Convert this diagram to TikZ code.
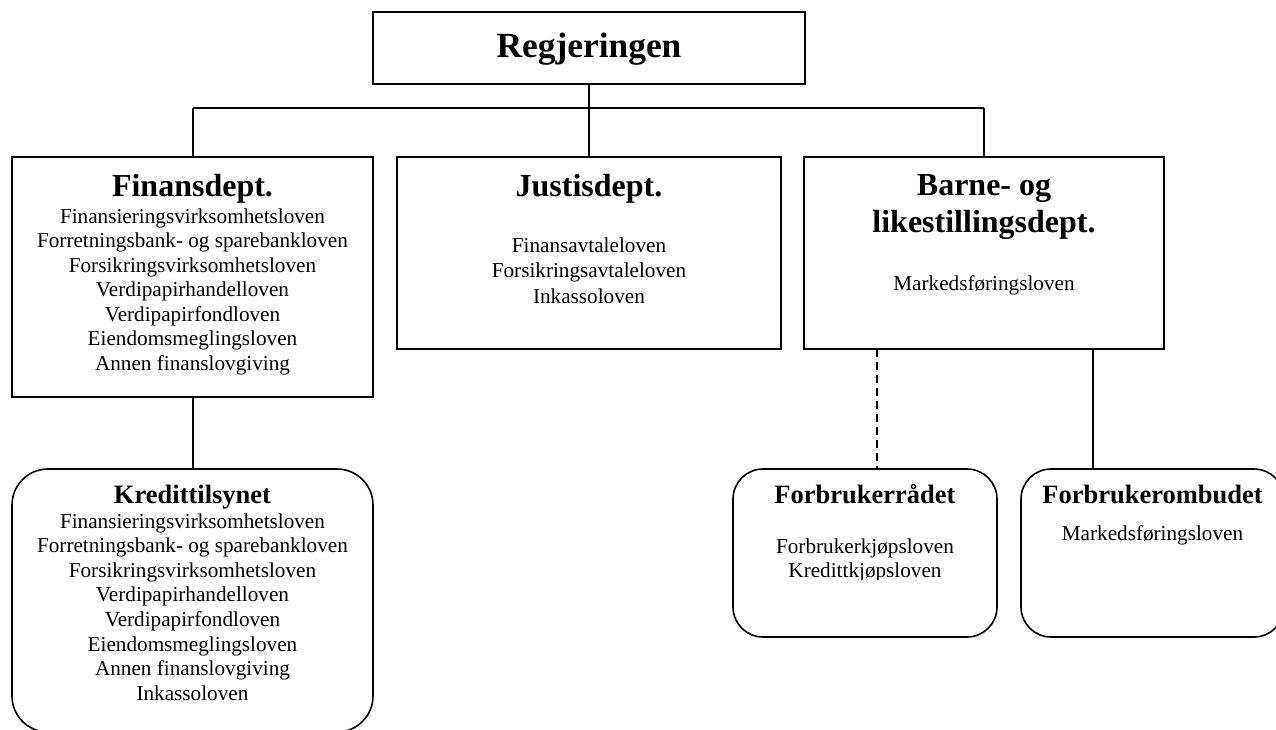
\documentclass[tikz,border=0pt]{standalone}
\usepackage{fontspec}
\setmainfont{Liberation Serif}
\begin{document}
\begin{tikzpicture}[x=1pt,y=-1pt,
  box/.style={draw, line width=1.8pt, rectangle, inner sep=0pt, outer sep=0pt},
  rbox/.style={draw, line width=1.6pt, rectangle, rounded corners=30pt, inner sep=0pt, outer sep=0pt},
  conn/.style={line width=2pt},
  big/.style={font=\bfseries\fontsize{35.4}{40}\selectfont, anchor=base, inner sep=0pt},
  head/.style={font=\bfseries\fontsize{32}{37}\selectfont, anchor=base, inner sep=0pt},
  sub/.style={font=\bfseries\fontsize{26.5}{30}\selectfont, anchor=base, inner sep=0pt},
  law/.style={font=\fontsize{21.2}{24}\selectfont, anchor=base, inner sep=0pt}]
\useasboundingbox (0,0) rectangle (1276,729);
% boxes
\node[box, minimum width=432, minimum height=72] (reg) at (589,48) {};
\node[box, minimum width=361, minimum height=240] (fin) at (192.5,277) {};
\node[box, minimum width=384, minimum height=192] (jus) at (589,253) {};
\node[box, minimum width=360, minimum height=192] (barne) at (984,253) {};
\node[rbox, rounded corners=36pt, minimum width=361, minimum height=263] (kred) at (192.5,600.5) {};
\node[rbox, minimum width=264, minimum height=168] (frad) at (865,553) {};
\node[rbox, minimum width=263, minimum height=168] (fomb) at (1152.5,553) {};
% texts
\node[big] (regT) at (589,57) {Regjeringen};
\node[head] (finT) at (192.5,196) {Finansdept.};
\foreach \t [count=\i from 0] in {Finansieringsvirksomhetsloven,Forretningsbank- og sparebankloven,Forsikringsvirksomhetsloven,Verdipapirhandelloven,Verdipapirfondloven,Eiendomsmeglingsloven,Annen finanslovgiving}
  \node[law] (finL\i) at (192.5,223+24.5*\i) {\t};
\node[head] (jusT) at (589,196) {Justisdept.};
\foreach \t [count=\i from 0] in {Finansavtaleloven,Forsikringsavtaleloven,Inkassoloven}
  \node[law] (jusL\i) at (589,252+25.5*\i) {\t};
\node[head] (barT1) at (984,195) {Barne- og};
\node[head] (barT2) at (984,232) {likestillingsdept.};
\node[law] (barL) at (984,290) {Markedsføringsloven};
\node[sub] (kredT) at (192.5,503) {Kredittilsynet};
\foreach \t [count=\i from 0] in {Finansieringsvirksomhetsloven,Forretningsbank- og sparebankloven,Forsikringsvirksomhetsloven,Verdipapirhandelloven,Verdipapirfondloven,Eiendomsmeglingsloven,Annen finanslovgiving,Inkassoloven}
  \node[law] (kredL\i) at (192.5,528+24.6*\i) {\t};
\node[sub] (fradT) at (865,503) {Forbrukerrådet};
\node[law] (fradL1) at (865,553) {Forbrukerkjøpsloven};
\begin{scope}
  \clip (740,560) rectangle (990,579.5);
  \node[law] (fradL2) at (865,577) {Kredittkjøpsloven};
\end{scope}
\node[sub] (fombT) at (1152.5,503) {Forbrukerombudet};
\node[law] (fombL) at (1152.5,540) {Markedsføringsloven};
% connectors
\coordinate (busL) at (192.5,108);
\coordinate (busR) at (984,108);
\coordinate (busM) at (reg.south |- busL);
\coordinate (dx) at (877,0);
\coordinate (ox) at (1093,0);
\draw[conn] (reg.south) -- (busM);
\draw[conn] (busL) -- (busR);
\draw[conn] (busL) -- (fin.north);
\draw[conn] (busM) -- (jus.north);
\draw[conn] (busR) -- (barne.north);
\draw[conn] (fin.south) -- (kred.north);
\draw[conn, dash pattern=on 8pt off 5pt] (barne.south -| dx) -- (frad.north -| dx);
\draw[conn] (barne.south -| ox) -- (fomb.north -| ox);
\end{tikzpicture}
\end{document}
